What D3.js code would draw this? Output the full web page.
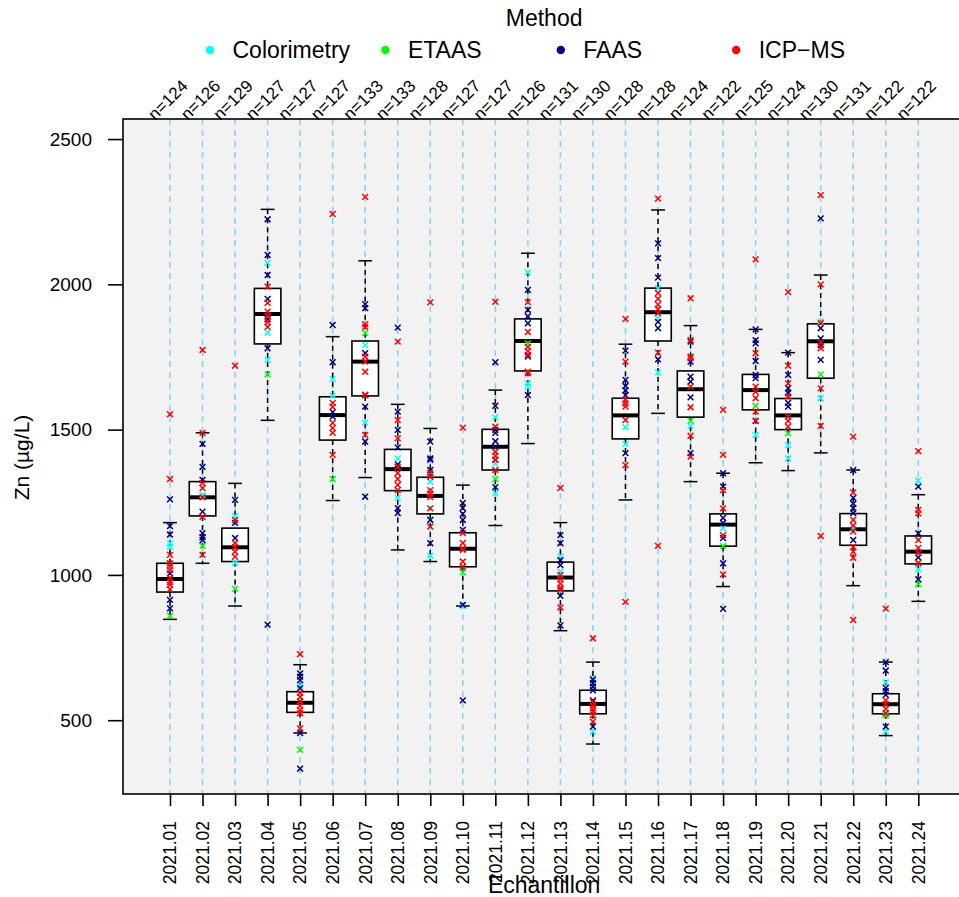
<!DOCTYPE html>
<html>
<head>
<meta charset="utf-8">
<script src="https://cdn.jsdelivr.net/npm/d3@7/dist/d3.min.js"></script>
<style>
  html, body { margin: 0; padding: 0; background: #ffffff; }
  svg { display: block; font-family: "Liberation Sans", Arial, Helvetica, sans-serif; }
</style>
</head>
<body>
<svg id="chart" width="959" height="897"></svg>
<script>
// Samples (Echantillon) and number of results per sample
const samples = ["2021.01","2021.02","2021.03","2021.04","2021.05","2021.06","2021.07","2021.08",
  "2021.09","2021.10","2021.11","2021.12","2021.13","2021.14","2021.15","2021.16",
  "2021.17","2021.18","2021.19","2021.20","2021.21","2021.22","2021.23","2021.24"];
const counts = [124,126,129,127,127,127,133,133,128,127,127,126,131,130,128,128,124,122,125,124,130,131,122,122];

// Box statistics, Zn (µg/L)
const whiskerLow  = [847,1040,893,1532,456,1256,1335,1086,1046,893,1170,1452,808,418,1258,1556,1321,960,1386,1359,1420,963,447,909];
const quart1      = [941,1203,1046,1795,527,1464,1616,1290,1210,1028,1361,1702,945,522,1468,1805,1543,1099,1568,1500,1677,1102,522,1038];
const medians     = [986,1267,1095,1898,560,1550,1734,1364,1272,1090,1441,1805,991,556,1549,1904,1639,1173,1636,1549,1804,1157,555,1080];
const quart3      = [1040,1321,1161,1986,598,1613,1805,1432,1336,1145,1501,1881,1044,603,1608,1987,1702,1210,1690,1607,1864,1211,591,1134];
const whiskerHigh = [1180,1489,1315,2258,691,1820,2081,1587,1504,1309,1636,2107,1180,700,1794,2256,1858,1350,1845,1765,2032,1361,700,1276];

// Individual results per method, one list per sample
const methods = ["Colorimetry","ETAAS","FAAS","ICP\u2212MS"];
const colorimetryValues = [
  [1109,1097],[1372,1275],[1203,1041],[2074,1834,1740],[620],[1674,1617],[1791,1524],[1401,1265],
  [1321,1189,1066],[893],[1542,1384,1281],[2041,1659,1648],[1063,1011,943],[645,461],[1508,1451],[1986,1883,1697],
  [1513],[1160],[1482],[1447,1401],[1871,1608],[1161],[630,461],[1325,1019]];
const etaasValues = [
  [859],[1100],[952],[1690],[398],[1330],[1832],[],
  [],[1009],[1330],[1797],[],[],[],[],
  [1530],[1099],[1582],[1487],[1690],[],[517],[968]];
const faasValues = [
  [1260,1168,1139,1005,914,885],[1451,1372,1327,1218,1144,1130,1120],[1258,1179,1127],[2224,2101,2032,1950,1880,1780,829],
  [661,650,638,610,456,333],[1860,1732,1560,1545],[1932,1918,1763,1619,1579,1459,1269],[1851,1562,1499,1439,1380,1230,1213],
  [1459,1401,1396,1361,1189,1109],[1248,1230,1210,1189,1155,897,568],[1732,1582,1499,1489,1460,1440,1396,1302],[1981,1912,1890,1866,1751,1619],
  [1137,1109,1051,1034,928,826],[640,627,615,603,568,478],[1772,1671,1650,1635,1619,1419],[2141,2090,2023,1871,1849,1742],
  [1803,1734,1682,1665,1611,1419],[1350,1304,1196,1179,1127,1040,883],[1845,1808,1797,1736,1688,1677,1530],[1765,1688,1643,1626,1592,1579],
  [2227,1849,1814,1790,1740],[1361,1265,1245,1230,1213,1120],[700,671,611,600,587,478],[1304,1143,1060,985]];
const icpmsValues = [
  [1553,1330,1069,1040,1030,1017,990,975,966,950],[1774,1489,1316,1299,1267,1200,1069],[1720,1189,1110,1095,1080,1062],[1992,1936,1906,1890,1870,1854],
  [727,594,580,565,550,535,524,472],[2242,1592,1578,1523,1505,1489,1413],[2301,1863,1853,1751,1734,1699,1619,1482],[1803,1533,1470,1372,1350,1330,1310,1292],
  [1938,1351,1337,1292,1280,1268,1229,1166],[1507,1144,1110,1090,1086,1046,1028],[1940,1510,1424,1410,1396,1361],[1939,1836,1785,1770,1757,1699,1694],
  [1299,1000,985,970,955,948,888],[782,563,550,540,530,517,495],[1881,1734,1602,1590,1579,1533,1378,907],[2295,1970,1950,1930,1915,1901,1765,1100],
  [1952,1808,1751,1745,1648,1577,1479,1407],[1568,1413,1292,1229,1137,1002],[2086,1763,1648,1630,1608,1562,1530],[1973,1720,1659,1614,1545,1530,1510],
  [2307,2000,1866,1800,1780,1642,1513,1134],[1476,1284,1189,1170,1149,1096,1080,1059,845],[884,568,555,540,524],[1426,1224,1212,1120,1093,1075,1041]];

const yTicks = [500,1000,1500,2000,2500];
const methodValues = [colorimetryValues, etaasValues, faasValues, icpmsValues];
const methodColors = ["#00ffff","#00ff00","#000080","#ff0000"];

const svg = d3.select("#chart");

// Plot region
const plotLeft = 123, plotTop = 119, plotBottom = 794;
const x = d3.scalePoint().domain(samples).range([170, 918.3]);
const step = x.step();
const plotRight = x(samples[samples.length - 1]) + (x(samples[0]) - plotLeft);
const y = d3.scaleLinear().domain([246, 2569]).range([plotBottom, plotTop]);
const boxW = step * 0.815;
const capW = boxW * 0.52;

// Panel background
svg.append("rect")
  .attr("x", plotLeft).attr("y", plotTop)
  .attr("width", plotRight - plotLeft).attr("height", plotBottom - plotTop)
  .attr("fill", "#f2f2f2");

// Dashed guide line through each sample
svg.append("g").selectAll("line").data(samples).join("line")
  .attr("x1", d => x(d)).attr("x2", d => x(d))
  .attr("y1", plotTop).attr("y2", plotBottom)
  .attr("stroke", "#87cefa").attr("stroke-width", 1.5)
  .attr("stroke-dasharray", "6,5");

// Boxplots
const boxData = samples.map((s, i) => ({
  s, lo: whiskerLow[i], q1: quart1[i], med: medians[i], q3: quart3[i], hi: whiskerHigh[i]
}));
const boxes = svg.append("g").selectAll("g").data(boxData).join("g");
boxes.append("line")
  .attr("x1", d => x(d.s)).attr("x2", d => x(d.s))
  .attr("y1", d => y(d.hi)).attr("y2", d => y(d.q3))
  .attr("stroke", "#000").attr("stroke-width", 1.5).attr("stroke-dasharray", "5,4");
boxes.append("line")
  .attr("x1", d => x(d.s)).attr("x2", d => x(d.s))
  .attr("y1", d => y(d.q1)).attr("y2", d => y(d.lo))
  .attr("stroke", "#000").attr("stroke-width", 1.5).attr("stroke-dasharray", "5,4");
boxes.append("line")
  .attr("x1", d => x(d.s) - capW / 2).attr("x2", d => x(d.s) + capW / 2)
  .attr("y1", d => y(d.hi)).attr("y2", d => y(d.hi))
  .attr("stroke", "#000").attr("stroke-width", 1.5);
boxes.append("line")
  .attr("x1", d => x(d.s) - capW / 2).attr("x2", d => x(d.s) + capW / 2)
  .attr("y1", d => y(d.lo)).attr("y2", d => y(d.lo))
  .attr("stroke", "#000").attr("stroke-width", 1.5);
boxes.append("rect")
  .attr("x", d => x(d.s) - boxW / 2).attr("width", boxW)
  .attr("y", d => y(d.q3)).attr("height", d => y(d.q1) - y(d.q3))
  .attr("fill", "#ffffff").attr("stroke", "#000").attr("stroke-width", 1.6);
boxes.append("line")
  .attr("x1", d => x(d.s) - boxW / 2).attr("x2", d => x(d.s) + boxW / 2)
  .attr("y1", d => y(d.med)).attr("y2", d => y(d.med))
  .attr("stroke", "#000").attr("stroke-width", 4);

// Individual results, drawn as crosses
const pts = [];
methodValues.forEach((arr, m) => arr.forEach((vals, i) => vals.forEach(v => pts.push({ s: samples[i], v, m }))));
const r = 2.9;
svg.append("g").selectAll("path").data(pts).join("path")
  .attr("transform", d => `translate(${x(d.s)},${y(d.v)})`)
  .attr("d", `M${-r},${-r}L${r},${r}M${-r},${r}L${r},${-r}`)
  .attr("stroke", d => methodColors[d.m]).attr("stroke-width", 1.5).attr("fill", "none");

// Frame
svg.append("rect")
  .attr("x", plotLeft).attr("y", plotTop)
  .attr("width", plotRight - plotLeft).attr("height", plotBottom - plotTop)
  .attr("fill", "none").attr("stroke", "#000").attr("stroke-width", 1.6);

// Y axis
const yAxis = svg.append("g").attr("transform", `translate(${plotLeft},0)`)
  .call(d3.axisLeft(y).tickValues(yTicks).tickSize(15).tickPadding(16).tickFormat(d3.format("d")));
yAxis.select(".domain").remove();
yAxis.selectAll(".tick line").attr("stroke-width", 1.6);
yAxis.selectAll(".tick text").attr("font-size", 19).attr("fill", "#000")
  .attr("font-family", "Liberation Sans, Arial, sans-serif");

// X axis
const xAxis = svg.append("g").attr("transform", `translate(0,${plotBottom})`)
  .call(d3.axisBottom(x).tickSize(12).tickFormat(""));
xAxis.select(".domain").remove();
xAxis.selectAll(".tick line").attr("stroke-width", 1.6);
svg.append("g").selectAll("text").data(samples).join("text")
  .attr("transform", d => `translate(${x(d)},821) rotate(-90)`)
  .attr("text-anchor", "end").attr("dy", "0.36em")
  .attr("font-size", 17.5).attr("fill", "#000")
  .text(d => d);

// Counts above the panel
svg.append("g").selectAll("text").data(samples).join("text")
  .attr("transform", (d, i) => `translate(${x(d) + 2},104) rotate(-45)`)
  .attr("text-anchor", "middle")
  .attr("font-size", 17).attr("fill", "#000")
  .text((d, i) => "n=" + counts[i]);

// Axis titles
svg.append("text")
  .attr("transform", "translate(28.5,457.5) rotate(-90)")
  .attr("text-anchor", "middle").attr("font-size", 21).attr("fill", "#000")
  .text("Zn (\u00b5g/L)");
svg.append("text")
  .attr("x", (plotLeft + plotRight) / 2).attr("y", 893)
  .attr("text-anchor", "middle").attr("font-size", 23).attr("fill", "#000")
  .text("Echantillon");

// Legend
const cx = (plotLeft + plotRight) / 2;
svg.append("text")
  .attr("x", cx).attr("y", 26)
  .attr("text-anchor", "middle").attr("font-size", 23).attr("fill", "#000")
  .text("Method");
const legend = svg.append("g").selectAll("g").data(methods).join("g")
  .attr("transform", (d, i) => `translate(${210 + i * 175.4},50)`);
legend.append("circle").attr("r", 4.2).attr("fill", (d, i) => methodColors[i]);
legend.append("text").attr("x", 22.5).attr("y", 8.3)
  .attr("font-size", 23).attr("fill", "#000").text(d => d);
</script>
</body>
</html>
